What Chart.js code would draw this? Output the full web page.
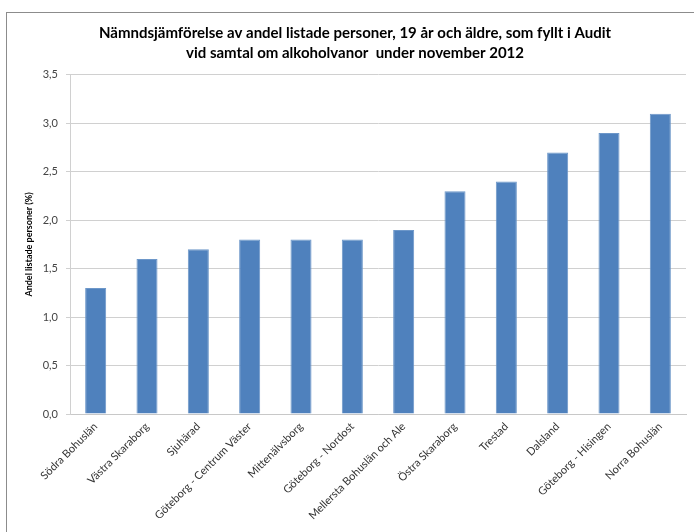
<!DOCTYPE html>
<html>
<head>
<meta charset="utf-8">
<script src="https://cdn.jsdelivr.net/npm/chart.js@4/dist/chart.umd.min.js"></script>
<style>
  body { margin: 0; background: #fff; overflow: hidden; }
  #frame {
    position: absolute; left: 6px; top: 12px; width: 720px; height: 560px;
    border-left: 1px solid #8c8c8c; border-top: 1px solid #8c8c8c;
  }
  #wrap { position: absolute; left: 0; top: 0; width: 694px; height: 532px; }
</style>
</head>
<body>
<div id="frame"></div>
<div id="wrap"><canvas id="chart" width="694" height="532"></canvas></div>
<script>
// Nämnder och andel listade personer (%)
const areas = [
  "Södra Bohuslän", "Västra Skaraborg", "Sjuhärad", "Göteborg - Centrum Väster",
  "Mittenälvsborg", "Göteborg - Nordost", "Mellersta Bohuslän och Ale",
  "Östra Skaraborg", "Trestad", "Dalsland", "Göteborg - Hisingen", "Norra Bohuslän"
];
const shares = [1.3, 1.6, 1.7, 1.8, 1.8, 1.8, 1.9, 2.3, 2.4, 2.7, 2.9, 3.1];
const titleLines = [
  "Nämndsjämförelse av andel listade personer, 19 år och äldre, som fyllt i Audit",
  "vid samtal om alkoholvanor  under november 2012"
];
const yTitle = "Andel listade personer (%)";

const FONT = "Lato, 'Liberation Sans', sans-serif";

new Chart(document.getElementById("chart"), {
  type: "bar",
  data: {
    labels: areas,
    datasets: [{
      data: shares,
      backgroundColor: "#4f81bd",
      borderColor: "#6d97c9",
      borderWidth: 1,
      categoryPercentage: 0.82,
      barPercentage: 0.5
    }]
  },
  options: {
    responsive: false,
    animation: false,
    devicePixelRatio: 1,
    layout: { padding: { left: 24, right: 8, top: 19, bottom: 0 } },
    plugins: {
      legend: { display: false },
      tooltip: { enabled: false },
      title: {
        display: true,
        text: titleLines,
        color: "#000",
        font: { family: FONT, size: 15, weight: "bold", lineHeight: 1.33 },
        padding: { top: 4, bottom: 12 }
      }
    },
    scales: {
      x: {
        grid: { display: false, drawTicks: false },
        border: { color: "#c8c8c8" },
        ticks: {
          color: "#333",
          font: { family: FONT, size: 11 },
          minRotation: 45,
          maxRotation: 45,
          autoSkip: false,
          padding: 6
        },
        afterFit: (axis) => { axis.height = 118; }
      },
      y: {
        min: 0,
        max: 3.5,
        grid: { color: "#d0d0d0", tickLength: 4 },
        border: { color: "#d0d0d0" },
        ticks: {
          stepSize: 0.5,
          color: "#444",
          font: { family: FONT, size: 11 },
          padding: 8,
          callback: (v) => v.toFixed(1).replace(".", ",")
        },
        title: {
          display: true,
          text: yTitle,
          color: "#000",
          font: { family: FONT, size: 9, weight: "bold" },
          padding: 0
        },
        afterFit: (axis) => { axis.width = 46; }
      }
    }
  },
  plugins: []
});
</script>
</body>
</html>
